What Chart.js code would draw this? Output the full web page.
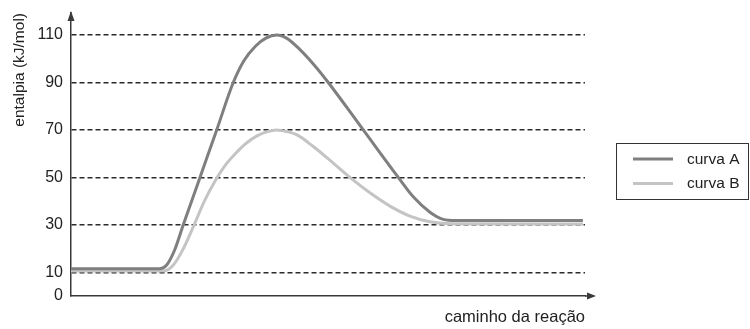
<!DOCTYPE html>
<html>
<head>
<meta charset="utf-8">
<script src="https://cdn.jsdelivr.net/npm/chart.js@4.4.1/dist/chart.umd.min.js"></script>
<style>
  html, body { margin: 0; padding: 0; background: #ffffff; }
  #wrap { width: 750px; height: 329px; }
</style>
</head>
<body>
<div id="wrap"><canvas id="c" width="750" height="329"></canvas></div>
<script>
// ---- data ----
const seriesNames = ["curva A", "curva B"];
const curveA_x = [0, 16.8, 18.3, 19.8, 21.43, 24.62, 27.81, 30.97, 33.0, 35.2, 37.2, 39.26, 41.2, 43.07, 46.24, 49.10, 55.78, 62.46, 65.32, 68.51, 71.05, 73.5, 97.7];
const curveA_y = [11.5, 11.5, 13.2, 19.5, 30, 50, 70, 90, 99.2, 105.3, 108.7, 110, 108.6, 105.2, 97.8, 90, 70, 50, 41.8, 35.3, 32.3, 31.8, 31.8];
const curveB_x = [0, 17.56, 19.5, 21.5, 23.5, 25.5, 27.5, 29.5, 31.5, 33.5, 35.5, 37.5, 39.26, 41.2, 43.07, 46.24, 49.43, 53.24, 57.06, 60.88, 64.69, 68.51, 72.33, 97.7];
const curveB_y = [10.5, 10.5, 13.0, 20.2, 30.0, 40.2, 48.5, 55.3, 60.3, 64.5, 67.5, 69.3, 70, 69.3, 68, 63, 57.2, 50, 43.5, 37.9, 33.7, 31.3, 30.5, 30.3];
const yTickValues = [0, 10, 30, 50, 70, 90, 110];
const yTitle = "entalpia (kJ/mol)";
const xTitle = "caminho da reação";
const seriesColors = ["#7f7f7f", "#c4c4c4"];

const FONT = "'Liberation Sans', Arial, Helvetica, sans-serif";

function toPoints(xs, ys) { return xs.map((x, i) => ({ x: x, y: ys[i] })); }

const arrowsPlugin = {
  id: 'arrows',
  afterDraw(chart) {
    const ctx = chart.ctx;
    const a = chart.chartArea;
    ctx.save();
    ctx.strokeStyle = '#3a3a3a';
    ctx.fillStyle = '#3a3a3a';
    ctx.lineWidth = 1.5;
    ctx.beginPath();
    ctx.moveTo(a.right, a.bottom);
    ctx.lineTo(589, a.bottom);
    ctx.stroke();
    ctx.beginPath();
    ctx.moveTo(596, a.bottom);
    ctx.lineTo(587, a.bottom - 3.5);
    ctx.lineTo(587, a.bottom + 3.5);
    ctx.closePath();
    ctx.fill();
    ctx.beginPath();
    ctx.moveTo(a.left, 11);
    ctx.lineTo(a.left - 3.5, 21);
    ctx.lineTo(a.left + 3.5, 21);
    ctx.closePath();
    ctx.fill();
    ctx.restore();
  }
};

const boxLegendPlugin = {
  id: 'boxLegend',
  afterDraw(chart) {
    const ctx = chart.ctx;
    const bx = 616.5, by = 143.5, bw = 132, bh = 56;
    ctx.save();
    ctx.strokeStyle = '#333333';
    ctx.lineWidth = 1;
    ctx.strokeRect(bx, by, bw, bh);
    ctx.font = '15.5px ' + FONT;
    ctx.textBaseline = 'middle';
    ctx.textAlign = 'left';
    chart.data.datasets.forEach((ds, i) => {
      const y = 159 + i * 24.5;
      ctx.strokeStyle = ds.borderColor;
      ctx.lineWidth = 3;
      ctx.beginPath();
      ctx.moveTo(633, y);
      ctx.lineTo(673, y);
      ctx.stroke();
      ctx.fillStyle = '#222222';
      ctx.fillText(ds.label, 687, y + 0.5);
    });
    ctx.restore();
  }
};

new Chart(document.getElementById('c'), {
  type: 'line',
  data: {
    datasets: [
      {
        label: seriesNames[0],
        data: toPoints(curveA_x, curveA_y),
        borderColor: seriesColors[0],
        backgroundColor: seriesColors[0],
        borderWidth: 3,
        pointRadius: 0,
        cubicInterpolationMode: 'monotone',
        fill: false
      },
      {
        label: seriesNames[1],
        data: toPoints(curveB_x, curveB_y),
        borderColor: seriesColors[1],
        backgroundColor: seriesColors[1],
        borderWidth: 3,
        pointRadius: 0,
        cubicInterpolationMode: 'monotone',
        fill: false
      }
    ]
  },
  options: {
    responsive: false,
    animation: false,
    devicePixelRatio: 1,
    layout: { padding: { top: 13, right: 165, bottom: 0, left: 0 } },
    plugins: {
      legend: { display: false },
      tooltip: { enabled: false }
    },
    scales: {
      x: {
        type: 'linear',
        min: 0,
        max: 98.1,
        afterFit(scale) { scale.height = 33; },
        grid: { display: false, drawTicks: false },
        border: { display: true, color: '#3a3a3a', width: 1.5 },
        ticks: { display: false },
        title: {
          display: true,
          text: xTitle,
          align: 'end',
          color: '#222222',
          font: { family: FONT, size: 16.5 },
          padding: { top: 0, bottom: 1.5 }
        }
      },
      y: {
        type: 'linear',
        min: 0,
        max: 119.3,
        afterFit(scale) { scale.width = 71; },
        afterBuildTicks(scale) { scale.ticks = yTickValues.map(v => ({ value: v })); },
        grid: {
          drawTicks: true,
          tickLength: 8,
          tickColor: 'rgba(0,0,0,0)',
          lineWidth: 1.5,
          color: (c) => (c.tick && c.tick.value === 0) ? 'rgba(0,0,0,0)' : '#2a2a2a'
        },
        border: { display: true, color: '#3a3a3a', width: 1.5, dash: [5, 3] },
        ticks: {
          color: '#222222',
          padding: 0,
          font: { family: FONT, size: 16 },
          callback: (v) => String(v)
        },
        title: {
          display: true,
          text: yTitle,
          align: 'end',
          color: '#222222',
          font: { family: FONT, size: 15.5 },
          padding: { top: 10, bottom: 0 }
        }
      }
    }
  },
  plugins: [arrowsPlugin, boxLegendPlugin]
});
</script>
</body>
</html>
